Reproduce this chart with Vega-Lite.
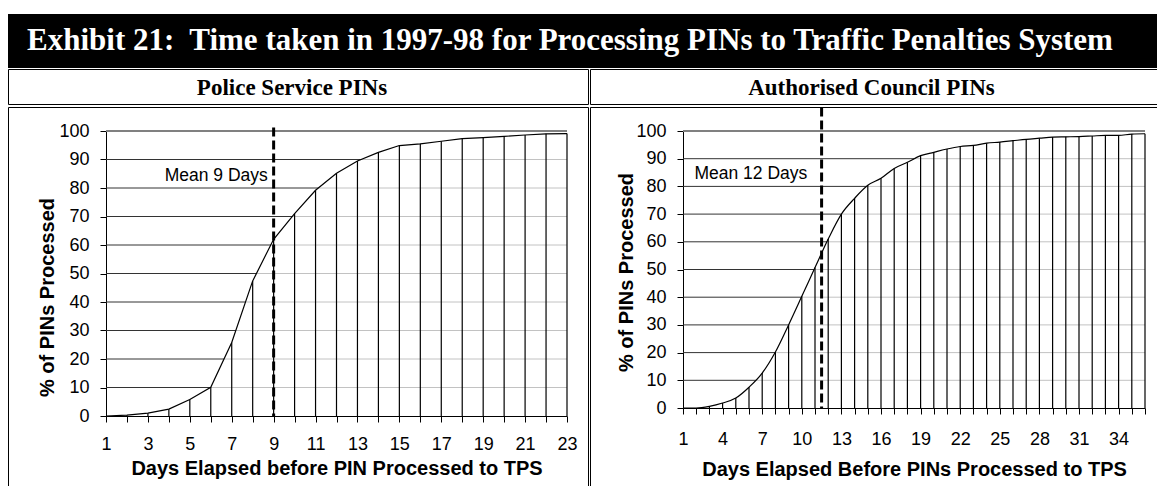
{
  "$schema": "https://vega.github.io/schema/vega-lite/v6.json",
  "background": "white",
  "padding": {"left": 7, "top": 14, "right": 0, "bottom": 0},
  "spacing": 0,
  "datasets": {
    "police": [
      {"d": 1, "p": 0}, {"d": 2, "p": 0.3}, {"d": 3, "p": 1.0}, {"d": 4, "p": 2.4}, {"d": 5, "p": 5.8},
      {"d": 6, "p": 10.1}, {"d": 7, "p": 25.8}, {"d": 8, "p": 47.4}, {"d": 9, "p": 62}, {"d": 10, "p": 71},
      {"d": 11, "p": 79.2}, {"d": 12, "p": 85.2}, {"d": 13, "p": 89.5}, {"d": 14, "p": 92.5}, {"d": 15, "p": 94.9},
      {"d": 16, "p": 95.5}, {"d": 17, "p": 96.4}, {"d": 18, "p": 97.3}, {"d": 19, "p": 97.7}, {"d": 20, "p": 98.1},
      {"d": 21, "p": 98.6}, {"d": 22, "p": 99}, {"d": 23, "p": 99.1}
    ],
    "council": [
      {"d": 1, "p": 0}, {"d": 2, "p": 0}, {"d": 3, "p": 0.6}, {"d": 4, "p": 1.8}, {"d": 5, "p": 3.6},
      {"d": 6, "p": 7.5}, {"d": 7, "p": 12.6}, {"d": 8, "p": 20.2}, {"d": 9, "p": 30}, {"d": 10, "p": 40.3},
      {"d": 11, "p": 50.7}, {"d": 12, "p": 61}, {"d": 13, "p": 70}, {"d": 14, "p": 75.7}, {"d": 15, "p": 80.4},
      {"d": 16, "p": 82.9}, {"d": 17, "p": 86.5}, {"d": 18, "p": 88.7}, {"d": 19, "p": 91.1}, {"d": 20, "p": 92.3},
      {"d": 21, "p": 93.5}, {"d": 22, "p": 94.4}, {"d": 23, "p": 94.8}, {"d": 24, "p": 95.6}, {"d": 25, "p": 96},
      {"d": 26, "p": 96.5}, {"d": 27, "p": 97}, {"d": 28, "p": 97.4}, {"d": 29, "p": 97.8}, {"d": 30, "p": 97.9},
      {"d": 31, "p": 98}, {"d": 32, "p": 98.2}, {"d": 33, "p": 98.4}, {"d": 34, "p": 98.4}, {"d": 35, "p": 98.9},
      {"d": 36, "p": 99}
    ],
    "grid": [{"g": 10}, {"g": 20}, {"g": 30}, {"g": 40}, {"g": 50}, {"g": 60}, {"g": 70}, {"g": 80}, {"g": 90}],
    "top": [{"g": 100}]
  },
  "config": {
    "view": {"stroke": null},
    "axis": {
      "labelFont": "Liberation Sans",
      "labelFontSize": 18,
      "labelColor": "black",
      "labelFlush": false,
      "labelOverlap": false,
      "titleFont": "Liberation Sans",
      "titleFontWeight": "bold",
      "titleFontSize": 20,
      "titleColor": "black",
      "domainColor": "black",
      "domainWidth": 1,
      "tickColor": "black",
      "tickSize": 6,
      "grid": false,
      "zindex": 1
    }
  },
  "vconcat": [
    {
      "width": 1150,
      "height": 54,
      "view": {"fill": "black", "stroke": null},
      "data": {"values": [{"t": "Exhibit 21:\u00a0 Time taken in 1997-98 for Processing PINs to Traffic Penalties System"}]},
      "mark": {"type": "text", "color": "white", "font": "Liberation Serif", "fontWeight": "bold", "fontSize": 31, "align": "center", "baseline": "middle", "dx": -13},
      "encoding": {"text": {"field": "t"}}
    },
    {
      "spacing": 0,
      "hconcat": [
        {
          "width": 580,
          "height": 35,
          "view": {"stroke": "black", "strokeWidth": 1},
          "data": {"values": [{"t": "Police Service PINs"}]},
          "mark": {"type": "text", "color": "black", "font": "Liberation Serif", "fontWeight": "bold", "fontSize": 23, "align": "center", "baseline": "middle", "dx": -6, "dy": 1},
          "encoding": {"text": {"field": "t"}}
        },
        {
          "width": 575,
          "height": 35,
          "view": {"stroke": "black", "strokeWidth": 1},
          "data": {"values": [{"t": "Authorised Council PINs"}]},
          "mark": {"type": "text", "color": "black", "font": "Liberation Serif", "fontWeight": "bold", "fontSize": 23, "align": "center", "baseline": "middle", "dx": -6, "dy": 1},
          "encoding": {"text": {"field": "t"}}
        }
      ]
    },
    {
      "spacing": 0,
      "hconcat": [
        {
          "width": 580,
          "height": 390,
          "view": {"stroke": "black", "strokeWidth": 1},
          "layer": [
            {
              "data": {"name": "grid"},
              "mark": {"type": "rule", "color": "#333", "strokeWidth": 1},
              "encoding": {
                "y": {"field": "g", "type": "quantitative", "scale": {"domain": [0, 100], "range": [309, 24], "nice": false},
                  "axis": {"title": "%  of PINs Processed", "offset": -98, "values": [0,10,20,30,40,50,60,70,80,90,100], "labelOverlap": false, "labelPadding": 11, "titleX": -59, "titleY": 190, "titleBaseline": "middle"}},
                "x": {"datum": 1, "type": "quantitative", "scale": {"domain": [1, 23], "range": [98, 559], "nice": false, "zero": false},
                  "axis": {"title": "Days Elapsed before PIN Processed to TPS", "offset": -81, "values": [1,2,3,4,5,6,7,8,9,10,11,12,13,14,15,16,17,18,19,20,21,22,23], "labelExpr": "datum.value % 2 == 1 ? datum.label : ''", "labelOverlap": false, "labelPadding": 13, "titleY": 52, "titleBaseline": "middle"}},
                "x2": {"datum": 23}
              }
            },
            {
              "data": {"name": "top"},
              "mark": {"type": "rule", "color": "#808080", "strokeWidth": 2},
              "encoding": {
                "y": {"field": "g", "type": "quantitative", "scale": {"domain": [0, 100], "range": [309, 24], "nice": false},
                  "axis": {"title": "%  of PINs Processed", "offset": -98, "values": [0,10,20,30,40,50,60,70,80,90,100], "labelOverlap": false, "labelPadding": 11, "titleX": -59, "titleY": 190, "titleBaseline": "middle"}},
                "x": {"datum": 1, "type": "quantitative", "scale": {"domain": [1, 23], "range": [98, 559], "nice": false, "zero": false},
                  "axis": {"title": "Days Elapsed before PIN Processed to TPS", "offset": -81, "values": [1,2,3,4,5,6,7,8,9,10,11,12,13,14,15,16,17,18,19,20,21,22,23], "labelExpr": "datum.value % 2 == 1 ? datum.label : ''", "labelOverlap": false, "labelPadding": 13, "titleY": 52, "titleBaseline": "middle"}},
                "x2": {"datum": 23}
              }
            },
            {
              "data": {"name": "police"},
              "mark": {"type": "area", "fill": "white", "line": {"color": "black", "strokeWidth": 1.2}},
              "encoding": {
                "x": {"field": "d", "type": "quantitative", "scale": {"domain": [1, 23], "range": [98, 559], "nice": false, "zero": false},
                  "axis": {"title": "Days Elapsed before PIN Processed to TPS", "offset": -81, "values": [1,2,3,4,5,6,7,8,9,10,11,12,13,14,15,16,17,18,19,20,21,22,23], "labelExpr": "datum.value % 2 == 1 ? datum.label : ''", "labelOverlap": false, "labelPadding": 13, "titleY": 52, "titleBaseline": "middle"}},
                "y": {"field": "p", "type": "quantitative", "scale": {"domain": [0, 100], "range": [309, 24], "nice": false},
                  "axis": {"title": "%  of PINs Processed", "offset": -98, "values": [0,10,20,30,40,50,60,70,80,90,100], "labelOverlap": false, "labelPadding": 11, "titleX": -59, "titleY": 190, "titleBaseline": "middle"}}
              }
            },
            {
              "data": {"name": "police"},
              "mark": {"type": "rule", "color": "black", "strokeWidth": 1.2},
              "encoding": {
                "x": {"field": "d", "type": "quantitative", "scale": {"domain": [1, 23], "range": [98, 559], "nice": false, "zero": false},
                  "axis": {"title": "Days Elapsed before PIN Processed to TPS", "offset": -81, "values": [1,2,3,4,5,6,7,8,9,10,11,12,13,14,15,16,17,18,19,20,21,22,23], "labelExpr": "datum.value % 2 == 1 ? datum.label : ''", "labelOverlap": false, "labelPadding": 13, "titleY": 52, "titleBaseline": "middle"}},
                "y": {"field": "p", "type": "quantitative", "scale": {"domain": [0, 100], "range": [309, 24], "nice": false},
                  "axis": {"title": "%  of PINs Processed", "offset": -98, "values": [0,10,20,30,40,50,60,70,80,90,100], "labelOverlap": false, "labelPadding": 11, "titleX": -59, "titleY": 190, "titleBaseline": "middle"}},
                "y2": {"datum": 0}
              }
            },
            {
              "data": {"values": [{"mean": 9}]},
              "mark": {"type": "rule", "color": "black", "strokeWidth": 3, "strokeDash": [9, 4]},
              "encoding": {
                "x": {"field": "mean", "type": "quantitative", "scale": {"domain": [1, 23], "range": [98, 559], "nice": false, "zero": false},
                  "axis": {"title": "Days Elapsed before PIN Processed to TPS", "offset": -81, "values": [1,2,3,4,5,6,7,8,9,10,11,12,13,14,15,16,17,18,19,20,21,22,23], "labelExpr": "datum.value % 2 == 1 ? datum.label : ''", "labelOverlap": false, "labelPadding": 13, "titleY": 52, "titleBaseline": "middle"}},
                "y": {"datum": 101.2, "type": "quantitative", "scale": {"domain": [0, 100], "range": [309, 24], "nice": false},
                  "axis": {"title": "%  of PINs Processed", "offset": -98, "values": [0,10,20,30,40,50,60,70,80,90,100], "labelOverlap": false, "labelPadding": 11, "titleX": -59, "titleY": 190, "titleBaseline": "middle"}},
                "y2": {"datum": 0}
              }
            },
            {
              "data": {"values": [{"label": "Mean 9 Days"}]},
              "mark": {"type": "text", "font": "Liberation Sans", "fontSize": 17.5, "color": "black", "align": "right", "baseline": "middle"},
              "encoding": {
                "text": {"field": "label"},
                "x": {"datum": 8.72, "type": "quantitative", "scale": {"domain": [1, 23], "range": [98, 559], "nice": false, "zero": false},
                  "axis": {"title": "Days Elapsed before PIN Processed to TPS", "offset": -81, "values": [1,2,3,4,5,6,7,8,9,10,11,12,13,14,15,16,17,18,19,20,21,22,23], "labelExpr": "datum.value % 2 == 1 ? datum.label : ''", "labelOverlap": false, "labelPadding": 13, "titleY": 52, "titleBaseline": "middle"}},
                "y": {"datum": 84.2, "type": "quantitative", "scale": {"domain": [0, 100], "range": [309, 24], "nice": false},
                  "axis": {"title": "%  of PINs Processed", "offset": -98, "values": [0,10,20,30,40,50,60,70,80,90,100], "labelOverlap": false, "labelPadding": 11, "titleX": -59, "titleY": 190, "titleBaseline": "middle"}}
              }
            }
          ]
        },
        {
          "width": 575,
          "height": 390,
          "view": {"stroke": "black", "strokeWidth": 1},
          "layer": [
            {
              "data": {"name": "grid"},
              "mark": {"type": "rule", "color": "#333", "strokeWidth": 1},
              "encoding": {
                "y": {"field": "g", "type": "quantitative", "scale": {"domain": [0, 100], "range": [301, 24], "nice": false},
                  "axis": {"title": "% of PINs Processed", "offset": -93, "values": [0,10,20,30,40,50,60,70,80,90,100], "labelOverlap": false, "labelPadding": 11, "titleX": -57, "titleY": 165, "titleBaseline": "middle"}},
                "x": {"datum": 1, "type": "quantitative", "scale": {"domain": [1, 36], "range": [93, 555], "nice": false, "zero": false},
                  "axis": {"title": "Days Elapsed Before PINs Processed to TPS", "offset": -89, "values": [1,2,3,4,5,6,7,8,9,10,11,12,13,14,15,16,17,18,19,20,21,22,23,24,25,26,27,28,29,30,31,32,33,34,35,36], "labelExpr": "(datum.value - 1) % 3 == 0 && datum.value < 36 ? datum.label : ''", "labelOverlap": false, "labelPadding": 16, "titleY": 61, "titleBaseline": "middle"}},
                "x2": {"datum": 36}
              }
            },
            {
              "data": {"name": "top"},
              "mark": {"type": "rule", "color": "#808080", "strokeWidth": 2},
              "encoding": {
                "y": {"field": "g", "type": "quantitative", "scale": {"domain": [0, 100], "range": [301, 24], "nice": false},
                  "axis": {"title": "% of PINs Processed", "offset": -93, "values": [0,10,20,30,40,50,60,70,80,90,100], "labelOverlap": false, "labelPadding": 11, "titleX": -57, "titleY": 165, "titleBaseline": "middle"}},
                "x": {"datum": 1, "type": "quantitative", "scale": {"domain": [1, 36], "range": [93, 555], "nice": false, "zero": false},
                  "axis": {"title": "Days Elapsed Before PINs Processed to TPS", "offset": -89, "values": [1,2,3,4,5,6,7,8,9,10,11,12,13,14,15,16,17,18,19,20,21,22,23,24,25,26,27,28,29,30,31,32,33,34,35,36], "labelExpr": "(datum.value - 1) % 3 == 0 && datum.value < 36 ? datum.label : ''", "labelOverlap": false, "labelPadding": 16, "titleY": 61, "titleBaseline": "middle"}},
                "x2": {"datum": 36}
              }
            },
            {
              "data": {"name": "council"},
              "mark": {"type": "area", "fill": "white", "interpolate": "monotone", "line": {"color": "black", "strokeWidth": 1.2}},
              "encoding": {
                "x": {"field": "d", "type": "quantitative", "scale": {"domain": [1, 36], "range": [93, 555], "nice": false, "zero": false},
                  "axis": {"title": "Days Elapsed Before PINs Processed to TPS", "offset": -89, "values": [1,2,3,4,5,6,7,8,9,10,11,12,13,14,15,16,17,18,19,20,21,22,23,24,25,26,27,28,29,30,31,32,33,34,35,36], "labelExpr": "(datum.value - 1) % 3 == 0 && datum.value < 36 ? datum.label : ''", "labelOverlap": false, "labelPadding": 16, "titleY": 61, "titleBaseline": "middle"}},
                "y": {"field": "p", "type": "quantitative", "scale": {"domain": [0, 100], "range": [301, 24], "nice": false},
                  "axis": {"title": "% of PINs Processed", "offset": -93, "values": [0,10,20,30,40,50,60,70,80,90,100], "labelOverlap": false, "labelPadding": 11, "titleX": -57, "titleY": 165, "titleBaseline": "middle"}}
              }
            },
            {
              "data": {"name": "council"},
              "mark": {"type": "rule", "color": "black", "strokeWidth": 1.2},
              "encoding": {
                "x": {"field": "d", "type": "quantitative", "scale": {"domain": [1, 36], "range": [93, 555], "nice": false, "zero": false},
                  "axis": {"title": "Days Elapsed Before PINs Processed to TPS", "offset": -89, "values": [1,2,3,4,5,6,7,8,9,10,11,12,13,14,15,16,17,18,19,20,21,22,23,24,25,26,27,28,29,30,31,32,33,34,35,36], "labelExpr": "(datum.value - 1) % 3 == 0 && datum.value < 36 ? datum.label : ''", "labelOverlap": false, "labelPadding": 16, "titleY": 61, "titleBaseline": "middle"}},
                "y": {"field": "p", "type": "quantitative", "scale": {"domain": [0, 100], "range": [301, 24], "nice": false},
                  "axis": {"title": "% of PINs Processed", "offset": -93, "values": [0,10,20,30,40,50,60,70,80,90,100], "labelOverlap": false, "labelPadding": 11, "titleX": -57, "titleY": 165, "titleBaseline": "middle"}},
                "y2": {"datum": 0}
              }
            },
            {
              "data": {"values": [{"mean": 11.5}]},
              "mark": {"type": "rule", "color": "black", "strokeWidth": 3, "strokeDash": [9, 4]},
              "encoding": {
                "x": {"field": "mean", "type": "quantitative", "scale": {"domain": [1, 36], "range": [93, 555], "nice": false, "zero": false},
                  "axis": {"title": "Days Elapsed Before PINs Processed to TPS", "offset": -89, "values": [1,2,3,4,5,6,7,8,9,10,11,12,13,14,15,16,17,18,19,20,21,22,23,24,25,26,27,28,29,30,31,32,33,34,35,36], "labelExpr": "(datum.value - 1) % 3 == 0 && datum.value < 36 ? datum.label : ''", "labelOverlap": false, "labelPadding": 16, "titleY": 61, "titleBaseline": "middle"}},
                "y": {"datum": 108.5, "type": "quantitative", "scale": {"domain": [0, 100], "range": [301, 24], "nice": false},
                  "axis": {"title": "% of PINs Processed", "offset": -93, "values": [0,10,20,30,40,50,60,70,80,90,100], "labelOverlap": false, "labelPadding": 11, "titleX": -57, "titleY": 165, "titleBaseline": "middle"}},
                "y2": {"datum": 0}
              }
            },
            {
              "data": {"values": [{"label": "Mean 12 Days"}]},
              "mark": {"type": "text", "font": "Liberation Sans", "fontSize": 17.5, "color": "black", "align": "left", "baseline": "middle"},
              "encoding": {
                "text": {"field": "label"},
                "x": {"datum": 1.87, "type": "quantitative", "scale": {"domain": [1, 36], "range": [93, 555], "nice": false, "zero": false},
                  "axis": {"title": "Days Elapsed Before PINs Processed to TPS", "offset": -89, "values": [1,2,3,4,5,6,7,8,9,10,11,12,13,14,15,16,17,18,19,20,21,22,23,24,25,26,27,28,29,30,31,32,33,34,35,36], "labelExpr": "(datum.value - 1) % 3 == 0 && datum.value < 36 ? datum.label : ''", "labelOverlap": false, "labelPadding": 16, "titleY": 61, "titleBaseline": "middle"}},
                "y": {"datum": 84.3, "type": "quantitative", "scale": {"domain": [0, 100], "range": [301, 24], "nice": false},
                  "axis": {"title": "% of PINs Processed", "offset": -93, "values": [0,10,20,30,40,50,60,70,80,90,100], "labelOverlap": false, "labelPadding": 11, "titleX": -57, "titleY": 165, "titleBaseline": "middle"}}
              }
            }
          ]
        }
      ]
    }
  ]
}
